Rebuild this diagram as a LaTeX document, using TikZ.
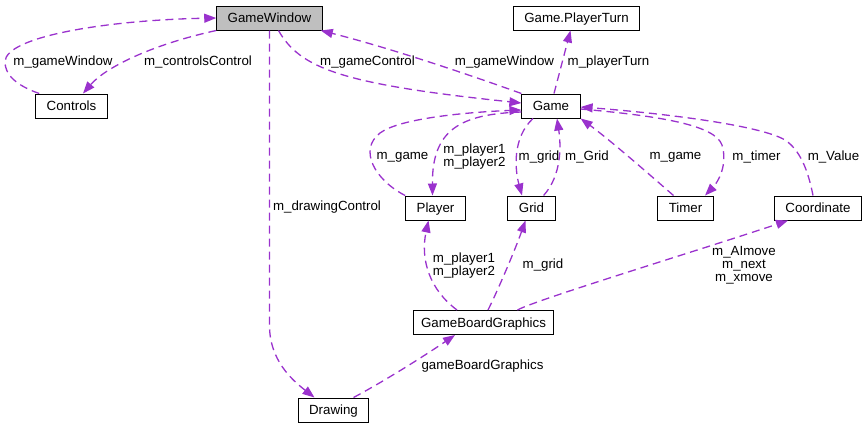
\documentclass[tikz,border=0pt]{standalone}
\usepackage{fontspec}
\setmainfont{Liberation Sans}
\usepackage{tikz}
\usetikzlibrary{arrows.meta,positioning,calc}
\definecolor{DoxEdge}{HTML}{9A32CD}
\definecolor{DoxGray}{HTML}{BFBFBF}

\begin{document}
\begin{tikzpicture}[
    x=1pt,y=-1pt,
    box/.style={draw=black,line width=1pt,minimum height=24pt,inner xsep=11pt,
      inner ysep=0pt,text height=9.6pt,text depth=0pt,fill=white,
      font=\fontsize{13.3}{13}\selectfont},
    root/.style={box,fill=DoxGray},
    lbl/.style={inner sep=0pt,align=center,font=\fontsize{13.3}{13}\selectfont},
    arrow/.style={-{Triangle[length=12pt,width=9pt]},line width=1.3pt,
      draw=DoxEdge,dash pattern=on 8pt off 5pt}
  ]
    \useasboundingbox (0,0) rectangle (866,429);
    \node[root] (gwin) at (269.5,18) {GameWindow};
    \node[box] (ctrls) at (71.5,106) {Controls};
    \node[box] (turn) at (576.5,18) {Game.PlayerTurn};
    \node[box] (game) at (551,106) {Game};
    \node[box] (player) at (435.5,208) {Player};
    \node[box] (grid) at (531.5,208) {Grid};
    \node[box] (timer) at (685.5,208) {Timer};
    \node[box] (coord) at (818,208) {Coordinate};
    \node[box,inner xsep=8pt] (board) at (483.5,322.5) {GameBoardGraphics};
    \node[box] (drawing) at (333.5,410) {Drawing};
    \draw[arrow] ($(ctrls.north west)+(4,0)$) .. controls (15,85) and (5,74) .. (5,62)
      .. controls (5,36) and (110,20) .. (gwin.west);
    \draw[arrow] (gwin.south west) .. controls (150,45) and (105,68) .. ($(ctrls.north)+(11.5,0)$);
    \draw[arrow] ($(gwin.south)+(9,0)$) .. controls (300,68) and (340,84) .. ($(game.west)+(0,-3)$);
    \draw[arrow] (game.north west) .. controls (470,75) and (390,48) .. ($(gwin.south east)+(-2,0)$);
    \draw[arrow] ($(game.north)+(3,0)$) -- ($(turn.south)+(-6,0)$);
    \draw[arrow] ($(game.west)+(0,6)$) .. controls (460,114) and (432,130) .. ($(player.north)+(-3,0)$);
    \draw[arrow] (player.north west) .. controls (375,180) and (358,150) .. (380,133)
      .. controls (400,118) and (470,112) .. ($(game.west)+(0,4)$);
    \draw[arrow] ($(game.south)+(-18,0)$) .. controls (512,138) and (515,170) .. ($(grid.north)+(-9.5,0)$);
    \draw[arrow] ($(grid.north east)+(-12,0)$) .. controls (562,175) and (561,145) .. ($(game.south)+(6,0)$);
    \draw[arrow] ($(timer.north)+(-12,0)$) .. controls (650,175) and (610,140) .. (game.south east);
    \draw[arrow] ($(game.east)+(0,3)$) .. controls (660,116) and (715,125) .. (722,145)
      .. controls (728,165) and (718,182) .. ($(timer.north)+(19.5,0)$);
    \draw[arrow] ($(coord.north)+(-5,0)$) .. controls (808,170) and (800,150) .. (785,140)
      .. controls (760,125) and (660,113) .. ($(game.east)+(0,1)$);
    \draw[arrow] (gwin.south) -- ($(gwin.south)+(0,295)$)
      .. controls (269.5,360) and (292,380) .. ($(drawing.north)+(-19,0)$);
    \draw[arrow] ($(board.north)+(-26.5,0)$) .. controls (430,290) and (420,260) .. ($(player.south)+(-7,0)$);
    \draw[arrow] ($(board.north)+(4.5,0)$) .. controls (498,290) and (515,250) .. ($(grid.south)+(-6,0)$);
    \draw[arrow] ($(board.north east)+(-37,0)$) .. controls (535,300) and (700,250) .. ($(coord.south)+(-30,0)$);
    \draw[arrow] ($(drawing.north)+(20,0)$) .. controls (390,378) and (430,352) .. ($(board.south)+(-28.5,0)$);
    % edge labels
    \node[lbl] (l1) at (63,62) {m\_gameWindow};
    \node[lbl] (l2) at (198,62) {m\_controlsControl};
    \node[lbl] (l3) at (367.5,62) {m\_gameControl};
    \node[lbl] (l4) at (504.5,62) {m\_gameWindow};
    \node[lbl] (l5) at (608.5,62) {m\_playerTurn};
    \node[lbl] (l6) at (474.5,157) {m\_player1\\m\_player2};
    \node[lbl] (l7) at (402.5,157) {m\_game};
    \node[lbl] (l8) at (539,157) {m\_grid};
    \node[lbl] (l9) at (587,157) {m\_Grid};
    \node[lbl] (l10) at (675.5,157) {m\_game};
    \node[lbl] (l11) at (756.5,157) {m\_timer};
    \node[lbl] (l12) at (833.5,157) {m\_Value};
    \node[lbl] (l13) at (327,207) {m\_drawingControl};
    \node[lbl] (l14) at (464,265.5) {m\_player1\\m\_player2};
    \node[lbl] (l15) at (543,265) {m\_grid};
    \node[lbl] (l16) at (744,265.5) {m\_AImove\\m\_next\\m\_xmove};
    \node[lbl] (l17) at (482.5,366) {gameBoardGraphics};
  \end{tikzpicture}
\end{document}
